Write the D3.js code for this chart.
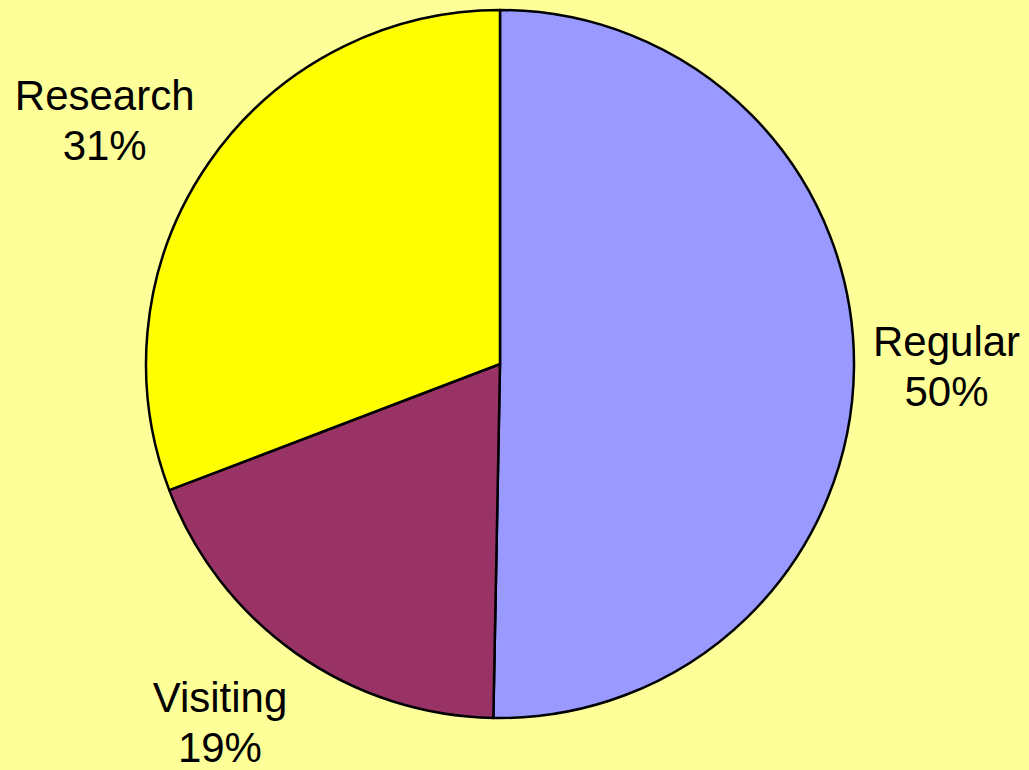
<!DOCTYPE html>
<html>
<head>
<meta charset="utf-8">
<script src="https://cdn.jsdelivr.net/npm/d3@7"></script>
<style>
  html, body { margin: 0; padding: 0; background: #FFFF99; }
  svg { display: block; }
</style>
</head>
<body>
<div id="chart"></div>
<script>
// Data
const categories = ['Regular', 'Visiting', 'Research'];
const shares = [50.3, 18.9, 30.8];
const colors = ['#9999FF', '#993366', '#FFFF00'];

let width = 1029,
    height = 770;

let cx = 500,
    cy = 364,
    radius = 354;

let svg = d3.select('#chart')
            .append('svg')
            .attr('width', width)
            .attr('height', height)
            .style('background', '#FFFF99');

const data = categories.map((c, i) => ({ name: c, value: shares[i], color: colors[i] }));
const total = d3.sum(shares);

const pie = d3.pie()
              .sort(null)
              .value(d => d.value);

const arc = d3.arc()
              .innerRadius(0)
              .outerRadius(radius);

let g = svg.append('g')
           .attr('transform', `translate(${cx}, ${cy})`);

// Draw slices
g.selectAll('path')
 .data(pie(data))
 .enter()
 .append('path')
 .attr('d', arc)
 .attr('fill', d => d.data.color)
 .attr('stroke', 'black')
 .attr('stroke-width', 2.5)
 .attr('stroke-linejoin', 'round');

// Labels outside the pie, box pushed away from the arc
const fontSize = 42,
      lineGap = 50,
      labelR = radius + 24;

// small hand nudges so the labels sit where the original put them
const nudge = { Regular: [-5, -2], Visiting: [-24, 10], Research: [-10, -2] };

pie(data).forEach(d => {
    const a = (d.startAngle + d.endAngle) / 2;
    const px = labelR * Math.sin(a);
    const py = -labelR * Math.cos(a);

    const t = g.append('text')
               .style('font-family', 'Liberation Sans, Arial, sans-serif')
               .style('font-size', fontSize + 'px')
               .attr('fill', 'black')
               .attr('text-anchor', 'middle');

    t.append('tspan').attr('x', 0).attr('dy', 0).text(d.data.name);
    t.append('tspan').attr('x', 0).attr('dy', lineGap)
     .text(Math.round(d.data.value / total * 100) + '%');

    const box = t.node().getBBox();
    const w = box.width, h = box.height;
    const n = nudge[d.data.name];
    const bx = px + Math.sin(a) * w / 2 + n[0];
    const by = py - Math.cos(a) * h / 2 + n[1];
    // shift so the box centre sits at (bx, by)
    t.attr('transform', `translate(${bx - (box.x + w / 2)}, ${by - (box.y + h / 2)})`);
});
</script>
</body>
</html>
